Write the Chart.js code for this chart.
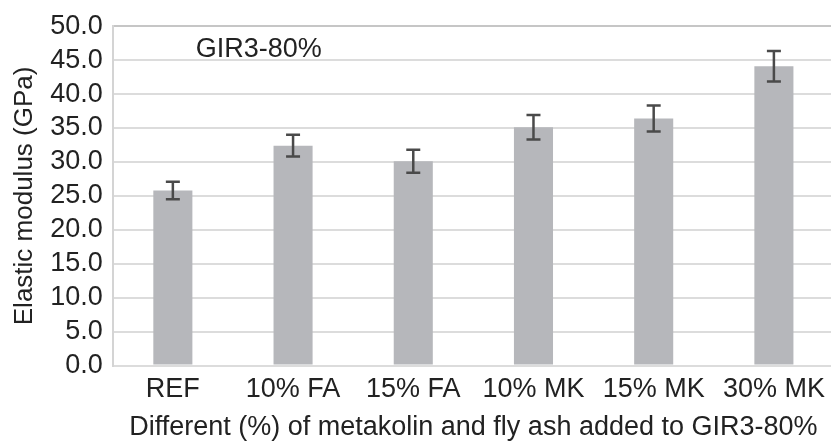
<!DOCTYPE html>
<html>
<head>
<meta charset="utf-8">
<script src="https://cdn.jsdelivr.net/npm/chart.js@4.4.1/dist/chart.umd.min.js"></script>
<style>
  html, body { margin: 0; padding: 0; background: #fff; overflow: hidden; }
  #wrap { width: 836px; height: 441px; }
</style>
</head>
<body>
<div id="wrap"><canvas id="c" width="836" height="441"></canvas></div>
<script>
const categories = ['REF', '10% FA', '15% FA', '10% MK', '15% MK', '30% MK'];
const modulus = [25.8, 32.4, 30.1, 35.1, 36.4, 44.1];
const errors = [1.3, 1.6, 1.7, 1.8, 1.9, 2.25];
const yTicks = [0, 5, 10, 15, 20, 25, 30, 35, 40, 45, 50];

const FONT = 'Liberation Sans, Arial, sans-serif';

const errorBars = {
  id: 'errorBars',
  afterDatasetsDraw(chart) {
    const ctx = chart.ctx;
    const y = chart.scales.y;
    const meta = chart.getDatasetMeta(0);
    ctx.save();
    ctx.strokeStyle = '#4a4a4a';
    ctx.lineWidth = 2.5;
    meta.data.forEach((bar, i) => {
      const x = bar.x;
      const top = y.getPixelForValue(modulus[i] + errors[i]);
      const bot = y.getPixelForValue(modulus[i] - errors[i]);
      ctx.beginPath();
      ctx.moveTo(x, top); ctx.lineTo(x, bot);
      ctx.moveTo(x - 7, top); ctx.lineTo(x + 7, top);
      ctx.moveTo(x - 7, bot); ctx.lineTo(x + 7, bot);
      ctx.stroke();
    });
    ctx.restore();
  }
};

const innerLabel = {
  id: 'innerLabel',
  afterDraw(chart) {
    const ctx = chart.ctx;
    const a = chart.chartArea;
    ctx.save();
    ctx.fillStyle = '#222';
    ctx.font = '27px ' + FONT;
    ctx.textAlign = 'center';
    ctx.textBaseline = 'middle';
    ctx.fillText('GIR3-80%', a.left + 146, a.top + 23);
    ctx.restore();
  }
};

new Chart(document.getElementById('c'), {
  type: 'bar',
  data: {
    labels: categories,
    datasets: [{
      data: modulus,
      backgroundColor: '#b6b7bb',
      borderWidth: 0,
      categoryPercentage: 1.0,
      barPercentage: 0.325
    }]
  },
  options: {
    responsive: false,
    animation: false,
    devicePixelRatio: 1,
    layout: { padding: { top: 11, right: 2, bottom: 0, left: 9 } },
    plugins: { legend: { display: false }, tooltip: { enabled: false } },
    scales: {
      x: {
        grid: { display: false, drawTicks: false },
        border: { display: false },
        ticks: { color: '#222', font: { family: FONT, size: 27 }, padding: 8, maxRotation: 0, autoSkip: false },
        title: { display: true, text: 'Different (%) of metakolin and fly ash added to GIR3-80%', color: '#222', font: { family: FONT, size: 27, lineHeight: 1.0 }, padding: { top: 0, bottom: 0 } }
      },
      y: {
        min: 0, max: 50,
        afterBuildTicks(scale) { scale.ticks = yTicks.map(v => ({ value: v })); },
        grid: {
          drawTicks: false,
          lineWidth: 2,
          color: ctx => (ctx.tick && ctx.tick.value === 50) ? '#c6c6c6' : '#dcdcdc'
        },
        border: { display: true, color: '#d4d4d4', width: 2 },
        ticks: { color: '#222', font: { family: FONT, size: 27 }, padding: 10, autoSkip: false, callback: v => Number(v).toFixed(1) },
        title: { display: true, text: 'Elastic modulus (GPa)', color: '#222', font: { family: FONT, size: 26 }, padding: { top: 0, bottom: 0 } }
      }
    }
  },
  plugins: [errorBars, innerLabel]
});
</script>
</body>
</html>
